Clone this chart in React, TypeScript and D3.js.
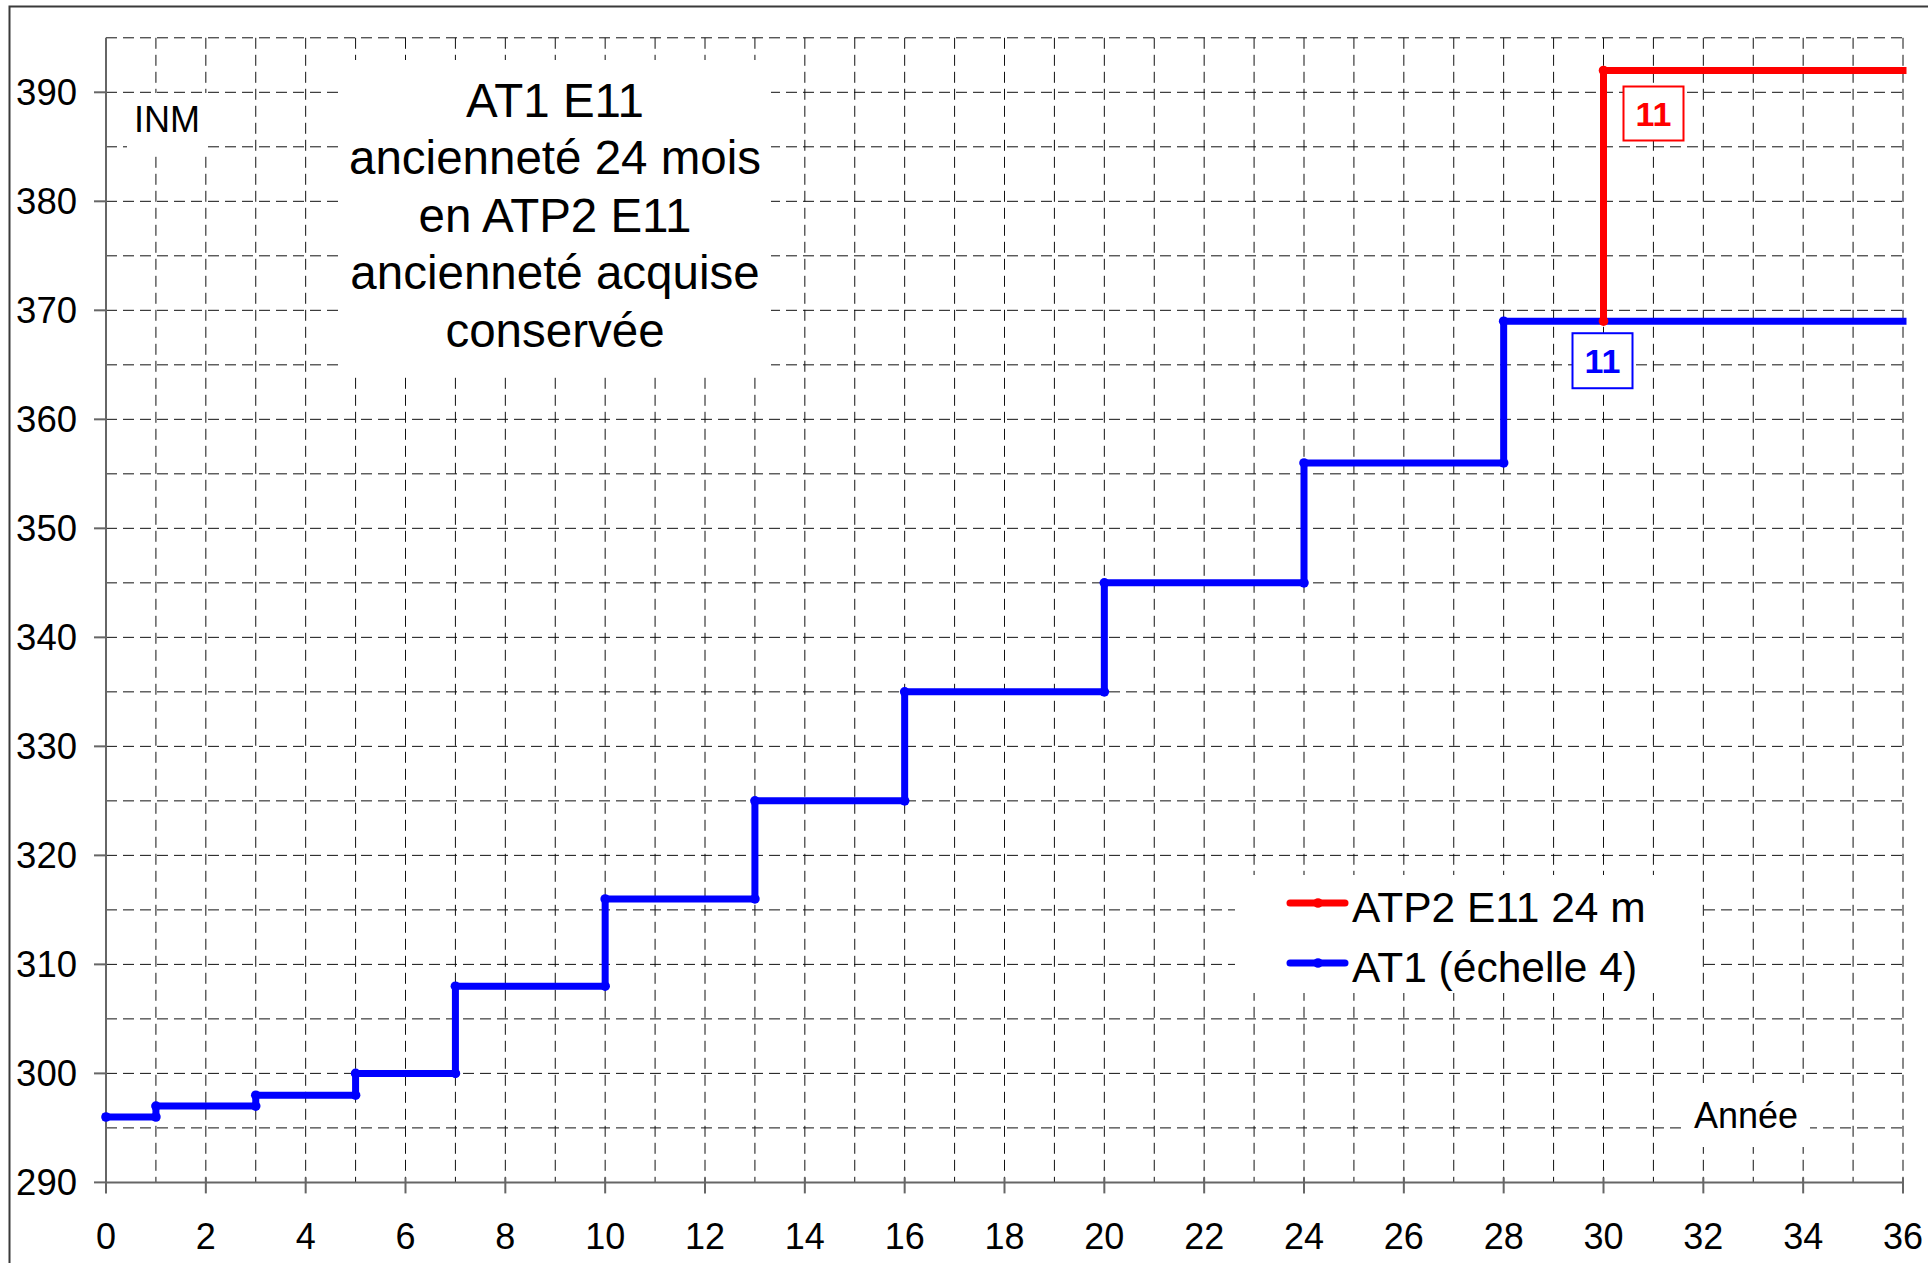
import * as d3 from "d3";

// AT1 (échelle 4) - step points (year, INM)
const at1Years = [0, 1, 1, 3, 3, 5, 5, 7, 7, 10, 10, 13, 13, 16, 16, 20, 20, 24, 24, 28, 28, 36];
const at1Inm = [296, 296, 297, 297, 298, 298, 300, 300, 308, 308, 316, 316, 325, 325, 335, 335, 345, 345, 356, 356, 369, 369];

// ATP2 E11 24 m
const atp2Years = [30, 30, 36];
const atp2Inm = [369, 392, 392];

const seriesNames = ["ATP2 E11 24 m", "AT1 (échelle 4)"];
const seriesColors = ["#ff0000", "#0000ff"];

const xTickValues = d3.range(0, 37, 2);
const yTickValues = d3.range(290, 391, 10);

const titleLines = [
  "AT1 E11",
  "ancienneté 24 mois",
  "en ATP2 E11",
  "ancienneté acquise",
  "conservée",
];

const echelonLabel = "11";

type Pt = { x: number; y: number };

const width = 1928;
const height = 1263;
const font = "'Liberation Sans', Arial, sans-serif";

const App = () => {
  const xScale = d3.scaleLinear().domain([0, 36]).range([106, 1903]);
  const yScale = d3.scaleLinear().domain([290, 395]).range([1182.4, 37.8]);

  const at1: Pt[] = at1Years.map((x, i) => ({ x, y: at1Inm[i] }));
  const atp2: Pt[] = atp2Years.map((x, i) => ({ x, y: atp2Inm[i] }));

  const line = d3
    .line<Pt>()
    .x((d) => xScale(d.x))
    .y((d) => yScale(d.y));

  const x0 = xScale(0);
  const xEnd = xScale(36);
  const yBottom = yScale(290);
  const yTop = yScale(395);

  const vGrid = d3.range(1, 37);
  const hGrid = d3.range(295, 396, 5);

  // label anchors
  const redTop = atp2[1];
  const blueJoin = atp2[0];

  return (
    <svg
      width={width}
      height={height}
      style={{ position: "absolute", left: 0, top: 0, background: "#fff" }}
      fontFamily={font}
    >
      <rect x={0} y={0} width={width} height={height} fill="#fff" />
      {/* outer frame */}
      <rect x={9.5} y={6.5} width={2000} height={2000} fill="none" stroke="#3a3a3a" strokeWidth={2} />

      {/* grid */}
      <g stroke="#111" strokeWidth={1} strokeDasharray="11 6" fill="none">
        {vGrid.map((d) => (
          <line key={"v" + d} x1={xScale(d)} x2={xScale(d)} y1={yTop} y2={yBottom} />
        ))}
        {hGrid.map((d) => (
          <line key={"h" + d} x1={x0} x2={xEnd} y1={yScale(d)} y2={yScale(d)} />
        ))}
      </g>

      {/* text boxes hiding the grid */}
      <g fill="#fff">
        <rect x={340} y={60} width={431} height={313} />
        <rect x={127} y={93} width={81} height={59} />
        <rect x={1682} y={1083} width={128} height={64} />
        <rect x={1235} y={875} width={467} height={118} />
      </g>

      {/* axes */}
      <g stroke="#666" strokeWidth={2}>
        <line x1={x0} x2={xEnd} y1={yBottom} y2={yBottom} />
        <line x1={x0} x2={x0} y1={yTop} y2={yBottom} />
        {xTickValues.map((d) => (
          <line key={"xt" + d} x1={xScale(d)} x2={xScale(d)} y1={yBottom - 5} y2={yBottom + 11} />
        ))}
        {yTickValues.map((d) => (
          <line key={"yt" + d} x1={x0 - 12} x2={x0} y1={yScale(d)} y2={yScale(d)} />
        ))}
      </g>
      <g fontSize={36} fill="#000" textAnchor="middle">
        {xTickValues.map((d) => (
          <text key={"xl" + d} x={xScale(d)} y={1236} dominantBaseline="central">
            {d}
          </text>
        ))}
      </g>
      <g fontSize={36.5} fill="#000" textAnchor="end">
        {yTickValues.map((d) => (
          <text key={"yl" + d} x={77} y={yScale(d)} dominantBaseline="central">
            {d}
          </text>
        ))}
      </g>

      {/* series */}
      <path
        d={line(at1) ?? ""}
        fill="none"
        stroke={seriesColors[1]}
        strokeWidth={7}
        strokeLinejoin="round"
        strokeLinecap="square"
      />
      {at1.slice(0, -1).map((d, i) => (
        <circle key={"b" + i} cx={xScale(d.x)} cy={yScale(d.y)} r={4.8} fill={seriesColors[1]} />
      ))}
      <path
        d={line(atp2) ?? ""}
        fill="none"
        stroke={seriesColors[0]}
        strokeWidth={7}
        strokeLinejoin="round"
        strokeLinecap="square"
      />
      {atp2.slice(0, -1).map((d, i) => (
        <circle key={"r" + i} cx={xScale(d.x)} cy={yScale(d.y)} r={4.8} fill={seriesColors[0]} />
      ))}

      {/* échelon labels */}
      <g fontWeight="bold" fontSize={34} textAnchor="middle">
        <rect
          x={xScale(redTop.x) + 20}
          y={yScale(redTop.y) + 16}
          width={60}
          height={54}
          fill="#fff"
          stroke={seriesColors[0]}
          strokeWidth={2}
        />
        <text
          x={xScale(redTop.x) + 50}
          y={yScale(redTop.y) + 43}
          dominantBaseline="central"
          fill={seriesColors[0]}
        >
          {echelonLabel}
        </text>
        <rect
          x={xScale(blueJoin.x) - 31}
          y={yScale(blueJoin.y) + 12}
          width={60}
          height={55}
          fill="#fff"
          stroke={seriesColors[1]}
          strokeWidth={2}
        />
        <text
          x={xScale(blueJoin.x) - 1}
          y={yScale(blueJoin.y) + 40}
          dominantBaseline="central"
          fill={seriesColors[1]}
        >
          {echelonLabel}
        </text>
      </g>

      {/* annotations */}
      <g fontSize={47.5} textAnchor="middle" fill="#000">
        {titleLines.map((t, i) => (
          <text key={t} x={555} y={116.7 + i * 57.5}>
            {t}
          </text>
        ))}
      </g>
      <text x={167} y={132} fontSize={36} textAnchor="middle">
        INM
      </text>
      <text x={1746} y={1128} fontSize={36} textAnchor="middle">
        Année
      </text>

      {/* legend */}
      {seriesNames.map((name, i) => {
        const ly = 903 + i * 60;
        return (
          <g key={name}>
            <line
              x1={1290}
              x2={1345}
              y1={ly}
              y2={ly}
              stroke={seriesColors[i]}
              strokeWidth={7}
              strokeLinecap="round"
            />
            <circle cx={1318} cy={ly} r={4.8} fill={seriesColors[i]} />
            <text x={1352} y={ly + 19} fontSize={42.5} fill="#000">
              {name}
            </text>
          </g>
        );
      })}
    </svg>
  );
};

export default App;
